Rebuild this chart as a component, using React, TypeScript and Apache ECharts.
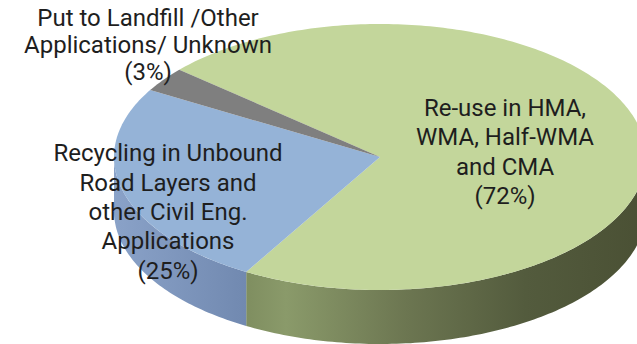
import React, { useEffect, useRef } from "react";
import * as echarts from "echarts";

const categories = [
  "Re-use in HMA, WMA, Half-WMA and CMA",
  "Recycling in Unbound Road Layers and other Civil Eng. Applications",
  "Put to Landfill /Other Applications/ Unknown",
];
const values = [72, 25, 3];
const labelTexts = [
  "Re-use in HMA,\nWMA, Half-WMA\nand CMA\n(72%)",
  "Recycling in Unbound\nRoad Layers and\nother Civil Eng.\nApplications\n(25%)",
  "Put to Landfill /Other\nApplications/ Unknown\n(3%)",
];

// layout / style (not data)
const CX = 380;
const CY = 157;
const RX = 266;
const RY = 133;
const DEPTH = 54;
const START = 139; // slices go clockwise from here
const topColors = ["#c3d69b", "#95b3d7", "#7f7f7f"];
const sideStops = [
  [
    [0, "#7f8e60"],
    [0.1, "#8a9a6a"],
    [0.4, "#6c7651"],
    [0.7, "#535b3d"],
    [1, "#4a5034"],
  ],
  [
    [0, "#8aa2c8"],
    [1, "#7189b0"],
  ],
  [
    [0, "#666666"],
    [1, "#555555"],
  ],
];
const labelPos = [
  { x: 505, y: 152, lh: 29.5 },
  { x: 168, y: 212, lh: 29.3 },
  { x: 148, y: 45, lh: 27 },
];

const pt = (deg: number, dy = 0) => {
  const r = (deg * Math.PI) / 180;
  return [CX + RX * Math.cos(r), CY - RY * Math.sin(r) + dy];
};

const arc = (a: number, b: number, dy = 0) => {
  const pts: number[][] = [];
  const n = Math.max(2, Math.ceil(Math.abs(b - a)));
  for (let i = 0; i <= n; i++) pts.push(pt(a + ((b - a) * i) / n, dy));
  return pts;
};

export default function App() {
  const ref = useRef<HTMLDivElement>(null);
  useEffect(() => {
    document.body.style.margin = "0";
    if (!ref.current) return;
    const chart = echarts.init(ref.current, null, { renderer: "svg" });
    const total = values.reduce((s, v) => s + v, 0);
    const option: any = {
      animation: false,
      backgroundColor: "#ffffff",
      series: [
        {
          type: "custom",
          coordinateSystem: "none",
          data: values.map((v, i) => ({ value: v, name: categories[i] })),
          renderItem: (params: any, api: any) => {
            const idx = params.dataIndex;
            let a0 = START;
            for (let j = 0; j < idx; j++) a0 -= (values[j] / total) * 360;
            const a1 = a0 - (api.value(0) / total) * 360;
            const lo0 = Math.min(a0, a1);
            const hi0 = Math.max(a0, a1);
            const children: any[] = [];
            for (const k of [-360, 0, 360]) {
              const lo = Math.max(lo0, 180 + k);
              const hi = Math.min(hi0, 360 + k);
              if (hi > lo) {
                const pts = arc(lo, hi).concat(arc(hi, lo, DEPTH));
                children.push({
                  type: "polygon",
                  shape: { points: pts },
                  style: {
                    fill: new echarts.graphic.LinearGradient(
                      0,
                      0,
                      1,
                      0,
                      sideStops[idx].map((s) => ({ offset: s[0], color: s[1] }))
                    ),
                  },
                  z2: 1,
                });
              }
            }
            children.push({
              type: "polygon",
              shape: { points: [[CX, CY]].concat(arc(a0, a1)) },
              style: { fill: topColors[idx] },
              z2: 10,
            });
            const lp = labelPos[idx];
            children.push({
              type: "text",
              x: lp.x,
              y: lp.y,
              style: {
                text: labelTexts[idx],
                fill: "#1e1e1e",
                fontSize: 24,
                fontFamily: "Roboto",
                align: "center",
                verticalAlign: "middle",
                lineHeight: lp.lh,
              },
              z2: 100,
            });
            return { type: "group", children };
          },
        },
      ],
    };
    chart.setOption(option);
    return () => chart.dispose();
  }, []);
  return <div ref={ref} style={{ width: 637, height: 344 }} />;
}
